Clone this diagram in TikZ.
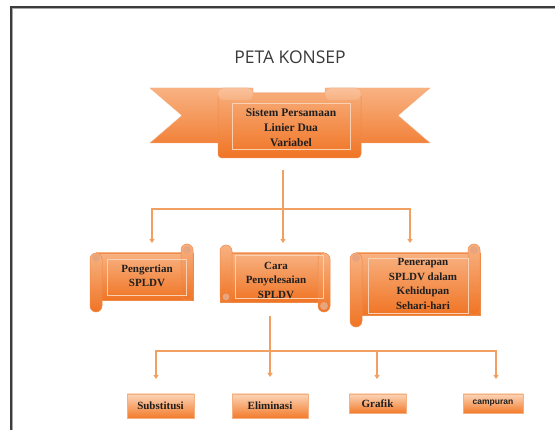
\documentclass[tikz,border=0pt]{standalone}
\usepackage{fontspec}
\setmainfont{Liberation Serif}
\newfontfamily\titlefont{Open Sans}
\newfontfamily\sansb{Liberation Sans}
\usetikzlibrary{arrows.meta}
\definecolor{orlight}{HTML}{F8B282}
\definecolor{ordark}{HTML}{F07424}
\definecolor{oredge}{HTML}{EE8A4A}
\definecolor{connc}{HTML}{F2A062}
\definecolor{curlc}{HTML}{E8A47C}
\definecolor{innerc}{HTML}{FAD0B2}
\definecolor{leaflight}{HTML}{FBD5B8}
\definecolor{leafdark}{HTML}{F37B2B}
\definecolor{leafedge}{HTML}{F5B081}
\definecolor{titlec}{HTML}{3A3A3A}
\definecolor{borderc}{HTML}{3C3C3C}
\definecolor{borderl}{HTML}{A8A8A8}
\newcommand\myscrollA[4]{% L R T B : raised roll top-right, lowered roll left
  \path[top color=orlight, bottom color=ordark, draw=oredge, line width=0.5pt] ({#1+6},#3) rectangle (#2,#4);
  \path[top color=orlight, bottom color=ordark, draw=oredge, line width=0.5pt, rounded corners=6pt] ({#2-12},{#3-9}) rectangle (#2,#4);
  \path[top color=orlight, bottom color=ordark, draw=oredge, line width=0.5pt, rounded corners=6pt] (#1,#3) rectangle ({#1+12},{#4+12});
  \fill[curlc] ({#1+6},{#3+5}) circle[radius=4pt];
  \fill[curlc] ({#2-6},{#3-3}) circle[radius=4pt];
}
\newcommand\myscrollB[4]{% L R T B : raised roll left, lowered roll right
  \path[top color=orlight, bottom color=ordark, draw=oredge, line width=0.5pt] (#1,#3) rectangle ({#2-6},#4);
  \path[top color=orlight, bottom color=ordark, draw=oredge, line width=0.5pt, rounded corners=6pt] (#1,{#3-8}) rectangle ({#1+12},#4);
  \path[top color=orlight, bottom color=ordark, draw=oredge, line width=0.5pt, rounded corners=6pt] ({#2-12},#3) rectangle (#2,{#4+10});
  \fill[curlc] ({#1+6},{#4-5}) circle[radius=3.5pt];
  \fill[curlc] ({#2-6},{#4+4}) circle[radius=4pt];
}
\begin{document}
\begin{tikzpicture}[x=1pt,y=-1pt,
  conn/.style={draw=connc, line width=1.1pt},
  arr/.style={conn, -{Triangle[width=5pt,length=4pt]}},
  lbl/.style={font=\bfseries\fontsize{11}{14.5}\selectfont, align=center, text=black!88, inner sep=0pt},
  leaf/.style={top color=leaflight, bottom color=leafdark, draw=leafedge, line width=0.5pt,
    font=\bfseries\fontsize{11}{13}\selectfont, text=black!88, inner sep=0pt},
  inner/.style={draw=innerc, line width=0.6pt}
]
\useasboundingbox (0,0) rectangle (555,430);
\fill[white] (0,0) rectangle (555,430);
% page border
\draw[borderc, line width=2pt] (11,430) -- (11,6.8) -- (555,6.8);
\draw[borderl, line width=1.2pt] (12.8,430) -- (12.8,8.5) -- (555,8.5);
% title
\node[font=\titlefont\fontsize{17.5}{20}\selectfont, text=titlec] (title) at (290,57) {PETA KONSEP};
% top ribbon
\path[top color=orlight, bottom color=ordark!90, draw=oredge!70, line width=0.4pt]
  (150,88) -- (253,88) -- (253,143) -- (150,143) -- (182,115.5) -- cycle;
\path[top color=orlight, bottom color=ordark!90, draw=oredge!70, line width=0.4pt]
  (430,88) -- (325,88) -- (325,143) -- (430,143) -- (398,115.5) -- cycle;
\path[top color=orlight!90!ordark, bottom color=ordark, draw=oredge, line width=0.5pt, rounded corners=4pt]
  (218,93) rectangle (361,158);
\path[top color=orlight!80!white, bottom color=orlight, draw=oredge!70, line width=0.4pt, rounded corners=5pt]
  (218,88) rectangle (253,100);
\path[top color=orlight!80!white, bottom color=orlight, draw=oredge!70, line width=0.4pt, rounded corners=5pt]
  (325,88) rectangle (361,100);
\draw[inner] (232,103) rectangle (350,149);
\node[lbl, font=\bfseries\fontsize{11.5}{15}\selectfont] (top) at (291,128) {Sistem Persamaan\\Linier Dua\\Variabel};
% scrolls
\myscrollA{90}{193}{253}{300}
\draw[inner] (107,259) rectangle (186,295);
\myscrollB{220}{330}{253}{302}
\draw[inner] (235,255) rectangle (323,298);
\myscrollA{350}{480}{253}{315}
\draw[inner] (368,258) rectangle (468,313);
\node[lbl] (peng) at (147,276) {Pengertian\\SPLDV};
\node[lbl] (cara) at (276,280) {Cara\\Penyelesaian\\SPLDV};
\node[lbl] (pen) at (423,284) {Penerapan\\SPLDV dalam\\Kehidupan\\Sehari-hari};
% bottom boxes
\node[leaf, minimum width=67pt, minimum height=24pt] (sub) at (160.5,406) {Substitusi};
\node[leaf, minimum width=76pt, minimum height=24pt] (elim) at (270,406) {Eliminasi};
\node[leaf, minimum width=57pt, minimum height=19pt] (graf) at (377.5,403.5) {Grafik};
\node[leaf, minimum width=60pt, minimum height=19pt, font=\sansb\bfseries\fontsize{8.5}{10}\selectfont] (camp) at (493,403.5) {campuran};
% connectors level 1
\coordinate (t0) at (283,170);
\coordinate (h1) at (283,209);
\coordinate (a1) at (152,243);
\coordinate (a2) at (283,243);
\coordinate (a3) at (410,243);
\draw[arr] (t0) -- (a2);
\draw[arr] (h1) -| (a1);
\draw[arr] (h1) -| (a3);
% connectors level 2
\coordinate (m0) at (270,316);
\coordinate (h2) at (270,351);
\coordinate (b1) at (156,379);
\coordinate (b2) at (270,377);
\coordinate (b3) at (377,379);
\coordinate (b4) at (496,379);
\draw[arr] (m0) -- (b2);
\draw[arr] (h2) -| (b1);
\draw[arr] (h2) -| (b3);
\draw[arr] (h2) -| (b4);
\end{tikzpicture}
\end{document}
